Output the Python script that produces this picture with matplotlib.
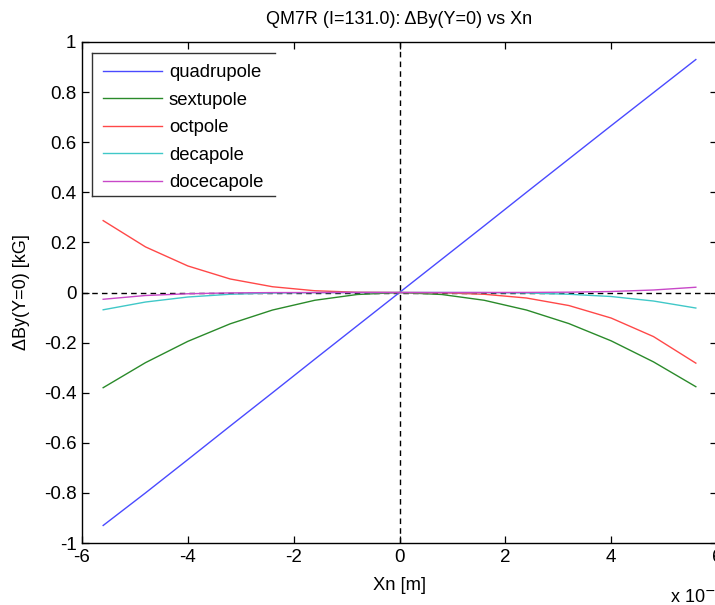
import matplotlib
matplotlib.use("Agg")
import matplotlib.pyplot as plt
from matplotlib.lines import Line2D
from matplotlib.ticker import FuncFormatter, FixedLocator

plt.rcParams['font.family'] = ['Liberation Sans', 'DejaVu Sans']

# x positions in metres
xn = [-5.6e-3, -4.8e-3, -4.0e-3, -3.2e-3, -2.4e-3, -1.6e-3, -0.8e-3, 0.0,
      0.8e-3, 1.6e-3, 2.4e-3, 3.2e-3, 4.0e-3, 4.8e-3, 5.6e-3]

quadrupole = [-0.930, -0.800, -0.667, -0.533, -0.400, -0.266, -0.133, 0.0,
              0.133, 0.266, 0.400, 0.533, 0.666, 0.798, 0.930]
sextupole = [-0.380, -0.280, -0.195, -0.125, -0.070, -0.031, -0.008, 0.0,
             -0.008, -0.031, -0.070, -0.124, -0.193, -0.277, -0.376]
octpole = [0.287, 0.182, 0.106, 0.054, 0.023, 0.007, 0.001, 0.0,
           -0.001, -0.007, -0.022, -0.052, -0.102, -0.176, -0.282]
decapole = [-0.069, -0.038, -0.018, -0.007, -0.002, -0.0004, 0.0, 0.0,
            0.0, -0.0004, -0.002, -0.007, -0.016, -0.034, -0.062]
docecapole = [-0.027, -0.012, -0.005, -0.0016, -0.0004, -0.0001, 0.0, 0.0,
              0.0, 0.0001, 0.0003, 0.0013, 0.004, 0.010, 0.021]

series = [
    ("quadrupole", quadrupole, "#4a4aff"),
    ("sextupole", sextupole, "#2a8a2a"),
    ("octpole", octpole, "#ff4848"),
    ("decapole", decapole, "#40c8c8"),
    ("docecapole", docecapole, "#c848c8"),
]

xticks = [-6e-3, -4e-3, -2e-3, 0.0, 2e-3, 4e-3, 6e-3]
yticks = [-1, -0.8, -0.6, -0.4, -0.2, 0, 0.2, 0.4, 0.6, 0.8, 1]

W, H = 715, 605
fig = plt.figure(figsize=(W / 100, H / 100), dpi=100)
L, R, T, B = 82, 717, 42, 543
ax = fig.add_axes([L / W, (H - B) / H, (R - L) / W, (B - T) / H])

for name, vals, col in series:
    ax.plot(xn, vals, color=col, lw=1.0, label=name)

ax.axvline(0, color='black', lw=1.0, ls=(0, (4, 3)), zorder=1)
ax.axhline(0, color='black', lw=1.0, ls=(0, (4, 3)), zorder=1)

ax.set_xlim(-6e-3, 6e-3)
ax.set_ylim(-1, 1)
ax.xaxis.set_major_locator(FixedLocator(xticks))
ax.yaxis.set_major_locator(FixedLocator(yticks))


def fmt(v, pos=None):
    s = f"{v:g}"
    if s == "-0":
        s = "0"
    return s


ax.xaxis.set_major_formatter(FuncFormatter(lambda v, p: fmt(round(v * 1e3, 6))))
ax.yaxis.set_major_formatter(FuncFormatter(lambda v, p: fmt(round(v, 6))))
ax.tick_params(direction='in', length=5, width=0.9, top=True, right=True,
               labelsize=13.5, colors='black', pad=4)
for sp in ax.spines.values():
    sp.set_linewidth(1.0)

ax.set_title("QM7R (I=131.0): ΔBy(Y=0) vs Xn", fontsize=13, pad=13)
ax.set_xlabel("Xn [m]", fontsize=13.2, labelpad=8)
ax.set_ylabel("ΔBy(Y=0) [kG]", fontsize=13, labelpad=10)
fig.text(670 / W, 1 - 597 / H, "x 10$^{-3}$", fontsize=13, va='center', ha='left')

leg = ax.legend(loc='upper left',
                bbox_to_anchor=((94 - L) / (R - L), 1 - (55 - T) / (B - T)),
                frameon=False, fontsize=13.3, handlelength=3.2, handletextpad=0.35,
                labelspacing=0.57, borderpad=0.5, borderaxespad=0)

# legend box: top, left and bottom sides
bx0, bx1 = 92 / W, 275 / W
by1, by0 = 1 - 53 / H, 1 - 196 / H
for xs, ys in [([bx0, bx1], [by1, by1]), ([bx0, bx0], [by0, by1]), ([bx0, bx1], [by0, by0])]:
    fig.add_artist(Line2D(xs, ys, color='#333333', lw=1.0, transform=fig.transFigure))

fig.savefig("out.png", dpi=100)
